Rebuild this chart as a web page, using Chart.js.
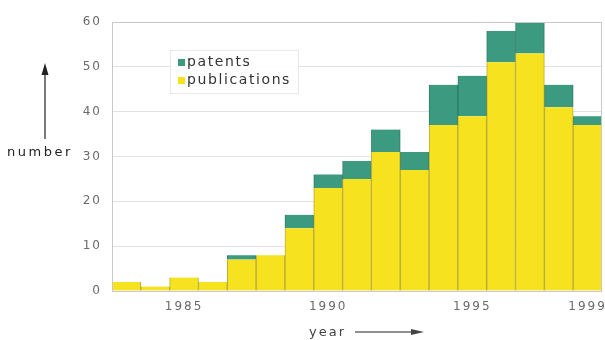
<!DOCTYPE html>
<html>
<head>
<meta charset="utf-8">
<script src="https://cdn.jsdelivr.net/npm/chart.js@4"></script>
<style>
  html, body { margin: 0; padding: 0; background: #fff; }
  #wrap { width: 605px; height: 340px; position: relative; }
</style>
</head>
<body>
<div id="wrap"><canvas id="pubChart" width="605" height="340"></canvas></div>
<script>
// data
const years = ['1983','1984','1985','1986','1987','1988','1989','1990','1991',
               '1992','1993','1994','1995','1996','1997','1998','1999'];
const publications = [2, 1, 3, 2, 7, 8, 14, 23, 25, 31, 27, 37, 39, 51, 53, 41, 37];
const patents      = [0, 0, 0, 0, 1, 0, 3, 3, 4, 5, 4, 9, 9, 7, 7, 5, 2];
const shownYears = ['1985', '1990', '1995', '1999'];
const yTicks = [0, 10, 20, 30, 40, 50, 60];

const FONT = '"DejaVu Sans", Verdana, sans-serif';

// wide letter spacing like the scanned original
const spacing = {
  id: 'spacing',
  beforeDraw(chart) { chart.ctx.letterSpacing = '2px'; }
};

// legend box, axis names and arrows
const extras = {
  id: 'extras',
  afterDraw(chart) {
    const { ctx, chartArea: a } = chart;
    ctx.save();
    // frame
    ctx.strokeStyle = '#c8c8c8';
    ctx.lineWidth = 1;
    ctx.strokeRect(a.left + 0.5, a.top + 0.5, a.right - a.left - 1, a.bottom - a.top);

    // legend inside plot
    const lx = 170, ly = 50;
    ctx.fillStyle = 'rgba(255,255,255,0.9)';
    ctx.fillRect(lx, ly, 128, 43);
    ctx.strokeStyle = '#e8e8e8';
    ctx.strokeRect(lx + 0.5, ly + 0.5, 128, 43);
    const items = [...chart.data.datasets].reverse();
    ctx.font = '14px ' + FONT;
    ctx.letterSpacing = '1.6px';
    ctx.textBaseline = 'middle';
    items.forEach((ds, i) => {
      const y = ly + 12 + i * 18;
      ctx.fillStyle = ds.backgroundColor;
      ctx.fillRect(lx + 8, y - 3, 7, 7);
      ctx.fillStyle = '#333';
      ctx.fillText(ds.label, lx + 17, y);
    });

    // y name + arrow
    ctx.fillStyle = '#222';
    ctx.font = '13px ' + FONT;
    ctx.letterSpacing = '2.5px';
    ctx.textAlign = 'left';
    ctx.fillText('number', 7, 153);
    ctx.strokeStyle = '#222';
    ctx.lineWidth = 1.2;
    ctx.beginPath(); ctx.moveTo(45, 139); ctx.lineTo(45, 70); ctx.stroke();
    ctx.beginPath(); ctx.moveTo(45, 63); ctx.lineTo(41.5, 75); ctx.lineTo(48.5, 75); ctx.closePath(); ctx.fill();

    // x name + arrow
    ctx.fillStyle = '#444';
    ctx.letterSpacing = '2px';
    ctx.fillText('year', 309, 333);
    ctx.beginPath(); ctx.moveTo(355, 332); ctx.lineTo(415, 332); ctx.stroke();
    ctx.beginPath(); ctx.moveTo(424, 332); ctx.lineTo(411, 329); ctx.lineTo(411, 335); ctx.closePath(); ctx.fill();
    ctx.restore();
  }
};

new Chart(document.getElementById('pubChart'), {
  type: 'bar',
  data: {
    labels: years,
    datasets: [
      { label: 'publications', data: publications, backgroundColor: '#f6e21f',
        borderColor: '#b8ab3a', borderWidth: { left: 1, right: 1, top: 0, bottom: 0 }, borderSkipped: false,
        barPercentage: 1, categoryPercentage: 1 },
      { label: 'patents', data: patents, backgroundColor: '#3b9a7f',
        borderColor: '#2f7a66', borderWidth: { left: 1, right: 1, top: 0, bottom: 0 }, borderSkipped: false,
        barPercentage: 1, categoryPercentage: 1 }
    ]
  },
  options: {
    responsive: false,
    animation: false,
    layout: { padding: { top: 22, right: 3, left: 0, bottom: 0 } },
    plugins: { legend: { display: false }, tooltip: { enabled: false } },
    scales: {
      x: {
        stacked: true,
        grid: { display: false },
        border: { display: false },
        ticks: {
          autoSkip: false, maxRotation: 0, color: '#6a6a6a', padding: 1,
          font: { family: FONT, size: 12 },
          callback(v) { const y = years[v]; return shownYears.includes(y) ? y : ''; }
        },
        afterFit(s) { s.height = 49; }
      },
      y: {
        stacked: true, min: 0, max: 60,
        afterBuildTicks(s) { s.ticks = yTicks.map(v => ({ value: v })); },
        grid: { color: '#e2e2e2', drawTicks: false },
        border: { color: '#c8c8c8' },
        ticks: { color: '#6a6a6a', padding: 10, font: { family: FONT, size: 12 } },
        afterFit(s) { s.width = 112; }
      }
    }
  },
  plugins: [spacing, extras]
});
</script>
</body>
</html>
